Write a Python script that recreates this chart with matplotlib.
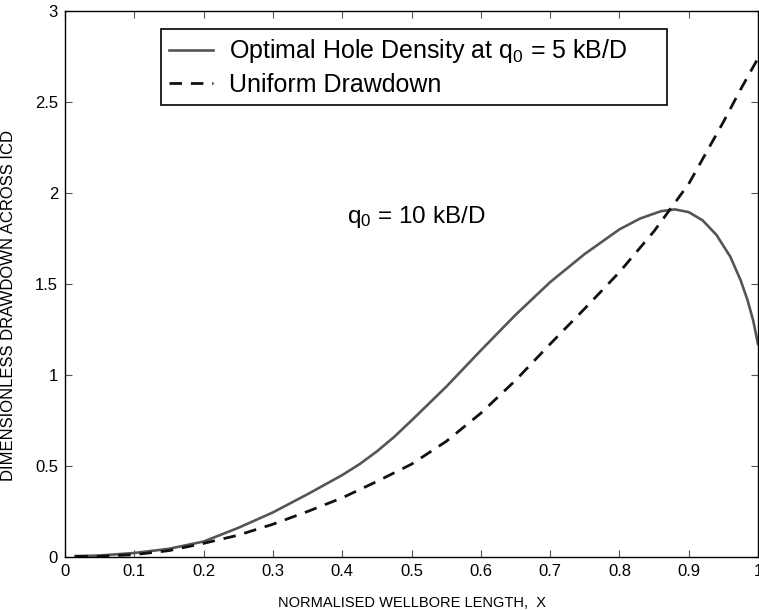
import matplotlib
matplotlib.use("Agg")
import matplotlib.pyplot as plt

plt.rcParams['font.family'] = ['Liberation Sans', 'DejaVu Sans']
plt.rcParams['mathtext.fontset'] = 'custom'
plt.rcParams['mathtext.rm'] = 'Liberation Sans'
plt.rcParams['mathtext.it'] = 'Liberation Sans'
plt.rcParams['mathtext.default'] = 'regular'

# Optimal hole density curve
x_opt = [0.015, 0.05, 0.1, 0.15, 0.2, 0.25, 0.3, 0.35, 0.4, 0.425, 0.45, 0.475,
         0.5, 0.55, 0.6, 0.65, 0.7, 0.75, 0.8, 0.83, 0.86, 0.88, 0.9, 0.92,
         0.94, 0.96, 0.975, 0.985, 0.993, 1.0]
y_opt = [0.005, 0.008, 0.022, 0.045, 0.085, 0.16, 0.245, 0.345, 0.45, 0.51,
         0.58, 0.66, 0.75, 0.935, 1.135, 1.33, 1.51, 1.665, 1.80, 1.86, 1.90,
         1.91, 1.895, 1.85, 1.77, 1.65, 1.52, 1.41, 1.30, 1.17]

# Uniform drawdown curve
x_uni = [0.015, 0.05, 0.1, 0.15, 0.2, 0.25, 0.3, 0.35, 0.4, 0.45, 0.5, 0.55,
         0.6, 0.65, 0.7, 0.75, 0.8, 0.85, 0.875, 0.9, 0.925, 0.95, 0.975, 1.0]
y_uni = [0.003, 0.004, 0.013, 0.035, 0.075, 0.12, 0.18, 0.25, 0.325, 0.415,
         0.51, 0.635, 0.79, 0.97, 1.17, 1.365, 1.565, 1.79, 1.92, 2.05, 2.22,
         2.39, 2.57, 2.74]

xticks = [0, 0.1, 0.2, 0.3, 0.4, 0.5, 0.6, 0.7, 0.8, 0.9, 1]
xtick_labels = ['0', '0.1', '0.2', '0.3', '0.4', '0.5', '0.6', '0.7', '0.8', '0.9', '1']
yticks = [0, 0.5, 1, 1.5, 2, 2.5, 3]
ytick_labels = ['0', '0.5', '1', '1.5', '2', '2.5', '3']

fig = plt.figure(figsize=(7.59, 6.10), dpi=100)
ax = fig.add_axes([65/759, 53/610, 693/759, 546/610])

ax.plot(x_opt, y_opt, color='#555555', lw=1.9, solid_joinstyle='round',
        label=r'Optimal Hole Density at q$_0$ = 5 kB/D')
ax.plot(x_uni, y_uni, color='#111111', lw=2.0, dashes=(4.5, 3.2),
        label='Uniform Drawdown')

ax.set_xlim(0, 1)
ax.set_ylim(0, 3)
ax.set_xticks(xticks)
ax.set_xticklabels(xtick_labels)
ax.set_yticks(yticks)
ax.set_yticklabels(ytick_labels)
ax.tick_params(direction='in', length=5, width=0.8, color='#555555',
               top=True, right=True, labelsize=12, pad=5)
for s in ax.spines.values():
    s.set_linewidth(1.0)

ax.set_xlabel('NORMALISED WELLBORE LENGTH,  X', fontsize=10.5, labelpad=12)
ax.set_ylabel('DIMENSIONLESS DRAWDOWN ACROSS ICD', fontsize=12)
ax.yaxis.set_label_coords(-0.07, 0.46)

ax.text(0.407, 1.835, r'q$_0$ = 10 kB/D', fontsize=17.5, ha='left', va='baseline')

leg = ax.legend(loc='upper left', bbox_to_anchor=(0.1385, 0.83, 0.7305, 0.137),
                mode='expand', fontsize=18,
                frameon=True, fancybox=False, edgecolor='black', framealpha=1,
                handlelength=1.75, borderpad=0.33, labelspacing=0.3,
                handletextpad=0.65, borderaxespad=0)
leg.get_frame().set_linewidth(1.2)

fig.savefig('out.png', dpi=100)
